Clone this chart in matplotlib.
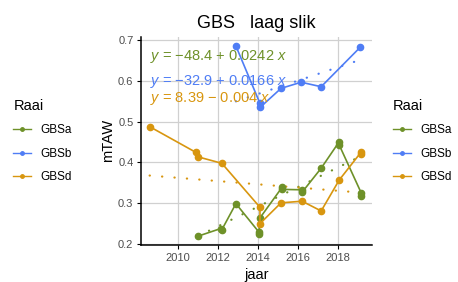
import matplotlib
matplotlib.use("Agg")
import matplotlib.pyplot as plt
from matplotlib.lines import Line2D

plt.rcParams['font.family'] = ['Liberation Sans', 'DejaVu Sans']
plt.rcParams['mathtext.fontset'] = 'custom'
plt.rcParams['mathtext.rm'] = 'Liberation Sans'
plt.rcParams['mathtext.it'] = 'Liberation Sans:italic'

# Gegevens
raai = ['GBSa', 'GBSb', 'GBSd']
kleuren = ['#6e9129', '#4f7df5', '#d8960f']

jaar_a = [2011.0, 2012.15, 2012.2, 2012.9, 2014.05, 2014.05, 2014.1, 2015.2, 2015.2, 2016.2, 2016.2, 2017.15, 2018.05, 2018.05, 2019.15, 2019.15]
mtaw_a = [0.219, 0.238, 0.235, 0.299, 0.229, 0.224, 0.264, 0.339, 0.334, 0.333, 0.327, 0.386, 0.451, 0.443, 0.325, 0.318]

jaar_b = [2012.9, 2014.1, 2014.1, 2015.15, 2016.15, 2017.15, 2019.1]
mtaw_b = [0.686, 0.545, 0.535, 0.582, 0.597, 0.586, 0.683]

jaar_d = [2008.6, 2010.9, 2011.0, 2012.2, 2014.1, 2014.1, 2015.15, 2016.2, 2017.15, 2018.05, 2019.15, 2019.15]
mtaw_d = [0.488, 0.425, 0.414, 0.398, 0.290, 0.250, 0.301, 0.305, 0.281, 0.357, 0.426, 0.420]

# trendlijnen: begin- en eindpunt
trend_x = [[2011.0, 2019.15], [2012.9, 2019.1], [2008.6, 2019.15]]
trend_y = [[0.219, 0.416], [0.550, 0.652], [0.368, 0.326]]
vergelijkingen = [r'$y$ = $-$48.4 + 0.0242 $x$',
                  r'$y$ = $-$32.9 + 0.0166 $x$',
                  r'$y$ = 8.39 $-$ 0.004 $x$']
verg_y = [0.659, 0.600, 0.558]

fig = plt.figure(figsize=(4.58, 2.82), dpi=100)
ax = fig.add_axes([0.3079, 0.1312, 0.5037, 0.7387])

reeksen = [(jaar_a, mtaw_a), (jaar_b, mtaw_b), (jaar_d, mtaw_d)]
for i, (x, y) in enumerate(reeksen):
    ax.plot(x, y, color=kleuren[i], lw=1.2, marker='o', ms=4.5, zorder=3)
    ax.plot(trend_x[i], trend_y[i], color=kleuren[i], lw=1.6,
            ls=(0, (0.1, 5.5)), dash_capstyle='round', zorder=2)
    ax.text(2008.62, verg_y[i], vergelijkingen[i], color=kleuren[i],
            fontsize=10.5, va='center', ha='left', zorder=4)

ax.set_xlim(2008.17, 2019.67)
ax.set_ylim(0.1975, 0.7088)
ax.set_xticks([2010, 2012, 2014, 2016, 2018])
ax.set_yticks([0.2, 0.3, 0.4, 0.5, 0.6, 0.7])
ax.grid(True, color='#d0d0d0', lw=0.9)
ax.set_axisbelow(True)
ax.spines['top'].set_visible(False)
ax.spines['right'].set_visible(False)
ax.spines['left'].set_linewidth(1.1)
ax.spines['bottom'].set_linewidth(1.1)
ax.tick_params(labelsize=8, labelcolor='#4d4d4d', length=3, width=0.8, pad=2.5)
ax.set_xlabel('jaar', fontsize=10.5, labelpad=4)
ax.set_ylabel('mTAW', fontsize=10.5, labelpad=2)
ax.set_title('GBS   laag slik', fontsize=13, pad=6)

handles = [Line2D([], [], color=c, lw=1.0, marker='o', ms=2.5) for c in kleuren]
for xpos in [0.029, 0.858]:
    leg = fig.legend(handles, raai, title='Raai', loc='upper left',
                     bbox_to_anchor=(xpos, 0.648), frameon=False, borderpad=0,
                     fontsize=8.5, title_fontsize=10.5, handlelength=1.5,
                     labelspacing=0.95, handletextpad=0.8, borderaxespad=0)
    leg._legend_box.align = 'left'

fig.savefig('out.png', dpi=100)
